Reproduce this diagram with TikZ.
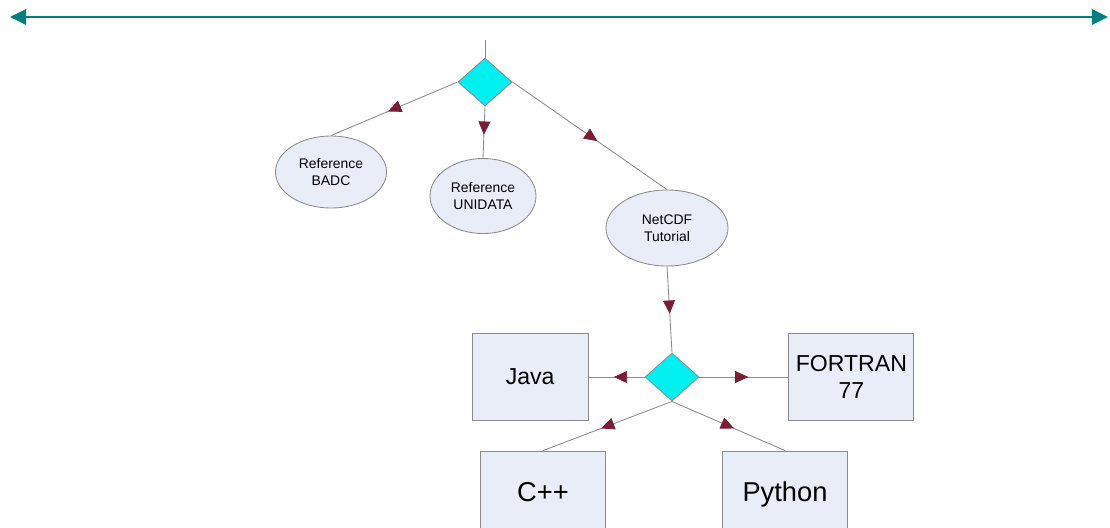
\documentclass[tikz,border=0pt]{standalone}
\usepackage{fontspec}
\setmainfont{Liberation Sans}
\usetikzlibrary{arrows.meta,shapes.geometric,decorations.markings,positioning}
\definecolor{shapefill}{HTML}{E8EDF7}
\definecolor{shapeline}{HTML}{8A8A8A}
\definecolor{choicefill}{HTML}{00F0F0}
\definecolor{tipred}{HTML}{7A1E38}
\definecolor{bandteal}{HTML}{007F7F}
\tikzset{
  refoval/.style={ellipse,draw=shapeline,fill=shapefill,inner sep=0pt,align=center,
    font=\fontsize{9.9}{11.9}\selectfont},
  langbox/.style={rectangle,draw=shapeline,fill=shapefill,inner sep=0pt,align=center,
    font=\fontsize{16.4}{19.7}\selectfont},
  choice/.style={diamond,draw=shapeline,fill=choicefill,inner sep=0pt,
    minimum width=1.35cm,minimum height=1.2cm},
  midarrow/.style={draw=shapeline,postaction={decorate},
    decoration={markings,mark=at position 0.55 with
      {\arrow{Triangle[length=9.5pt,width=8.5pt,color=tipred]}}}}
}
\begin{document}
\begin{tikzpicture}[x=0.025cm,y=-0.025cm,line width=0.6pt]
    \clip (0,0) rectangle (1110,527);
    % band along the top
    \coordinate (bandL) at (10,17);
    \coordinate (bandR) at (1108,17);
    \draw[bandteal,line width=2.1pt,
      {Triangle[length=11.4pt,width=10.7pt]}-{Triangle[length=11.4pt,width=10.7pt]}]
      (bandL) -- (bandR);
    % first choice and the references
    \coordinate (entry) at (485,40);
    \node[choice] (top) at (485,82) {};
    \draw[shapeline] (entry) -- (top.north);
    \node[refoval,minimum width=2.775cm,minimum height=1.8cm] (badc) at (331,172)
    {Reference\\BADC};
    \node[refoval,minimum width=2.65cm,minimum height=1.875cm] (unidata) at (483,196)
    {Reference\\UNIDATA};
    \node[refoval,minimum width=3.05cm,minimum height=1.9cm] (netcdf) at (667,228)
    {NetCDF\\Tutorial};
    \draw[midarrow] (top.west) -- (badc.north);
    \draw[midarrow] (top.south) -- (unidata.north);
    \draw[midarrow] (top.east) -- (netcdf.north);
    % second choice and the languages
    \node[choice] (pick) at (672,377) {};
    \draw[midarrow] (netcdf.south) -- (pick.north);
    \node[langbox,minimum width=2.9cm,minimum height=2.175cm] (java)
    [left=1.4cm of pick] {Java};
    \node[langbox,minimum width=3.125cm,minimum height=2.175cm] (fortran)
    [right=2.225cm of pick] {FORTRAN\\77};
    \node[langbox,minimum width=3.125cm,minimum height=2.2cm,
      font=\fontsize{19.4}{23}\selectfont] (cpp) at (543,495) {\raisebox{5pt}{C++}};
    \node[langbox,minimum width=3.125cm,minimum height=2.2cm,
      font=\fontsize{19.4}{23}\selectfont] (python) at (785,495) {\raisebox{5pt}{Python}};
    \draw[midarrow] (pick.west) -- (java.east);
    \draw[midarrow] (pick.east) -- (fortran.west);
    \draw[midarrow] (pick.south) -- (cpp.north);
    \draw[midarrow] (pick.south) -- (python.north);
\end{tikzpicture}
\end{document}
